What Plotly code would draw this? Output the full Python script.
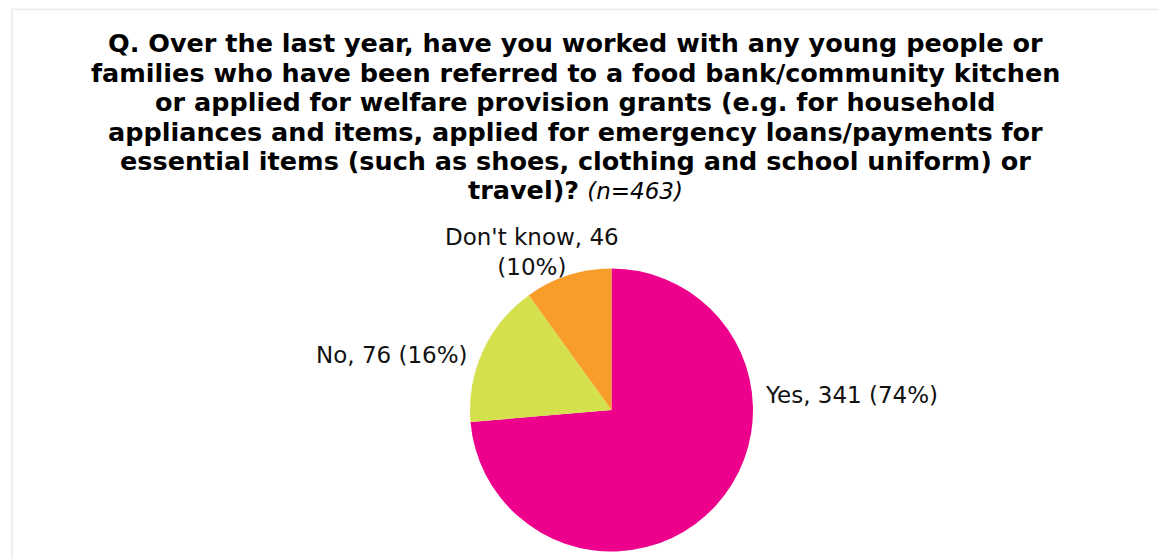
import plotly.graph_objects as go

# Survey responses
labels = ["Yes", "No", "Don't know"]
counts = [341, 76, 46]
colors = ["#EC008C", "#D5E04D", "#F89C2A"]
n_total = 463

W, H = 1159, 559
FONT = "DejaVu Sans"

total = sum(counts)
pcts = [round(c * 100 / total) for c in counts]

fig = go.Figure(
    go.Pie(
        labels=labels,
        values=counts,
        sort=False,
        direction="clockwise",
        rotation=0,
        marker=dict(colors=colors, line=dict(width=0)),
        textinfo="none",
        hoverinfo="label+value+percent",
        showlegend=False,
        domain=dict(x=[470 / W, 753 / W], y=[1 - 552 / H, 1 - 268 / H]),
    )
)

title_lines = [
    "Q. Over the last year, have you worked with any young people or",
    "families who have been referred to a food bank/community kitchen",
    "or applied for welfare provision grants (e.g. for household",
    "appliances and items, applied for emergency loans/payments for",
    "essential items (such as shoes, clothing and school uniform) or",
    "travel)?",
]


def px(x, y):
    return x / W, 1 - y / H


annotations = []

# question title, one bold line per annotation
for i, line in enumerate(title_lines):
    txt = f"<b>{line}</b>"
    if i == len(title_lines) - 1:
        txt += f" <span style='font-size:23px'><i>(n={n_total})</i></span>"
    ax, ay = px(575, 43 + 29.5 * i)
    annotations.append(
        dict(
            text=txt, x=ax, y=ay, xref="paper", yref="paper",
            xanchor="center", yanchor="middle", align="center",
            showarrow=False, font=dict(family=FONT, size=25.5, color="#000000"),
        )
    )

# slice labels: "<label>, <count> (<pct>%)"
label_texts = [f"{l}, {c} ({p}%)" for l, c, p in zip(labels, counts, pcts)]
label_texts[2] = f"{labels[2]}, {counts[2]}<br>({pcts[2]}%)"
label_pos = [
    (763, 395, "left"),
    (470, 355, "right"),
    (532, 252, "center"),
]
for txt, (x, y, anc) in zip(label_texts, label_pos):
    ax, ay = px(x, y)
    annotations.append(
        dict(
            text=txt, x=ax, y=ay, xref="paper", yref="paper",
            xanchor=anc, yanchor="middle", align="center",
            showarrow=False, font=dict(family=FONT, size=23, color="#111111"),
        )
    )

bx0, by1 = px(12, 9.5)
fig.update_layout(
    width=W,
    height=H,
    margin=dict(l=0, r=0, t=0, b=0),
    paper_bgcolor="white",
    plot_bgcolor="white",
    annotations=annotations,
    shapes=[
        dict(
            type="rect", xref="paper", yref="paper",
            x0=bx0, x1=1.05, y0=-0.05, y1=by1,
            line=dict(color="#EEEEEE", width=2), layer="below",
        )
    ],
)

fig.write_html("out.html")
